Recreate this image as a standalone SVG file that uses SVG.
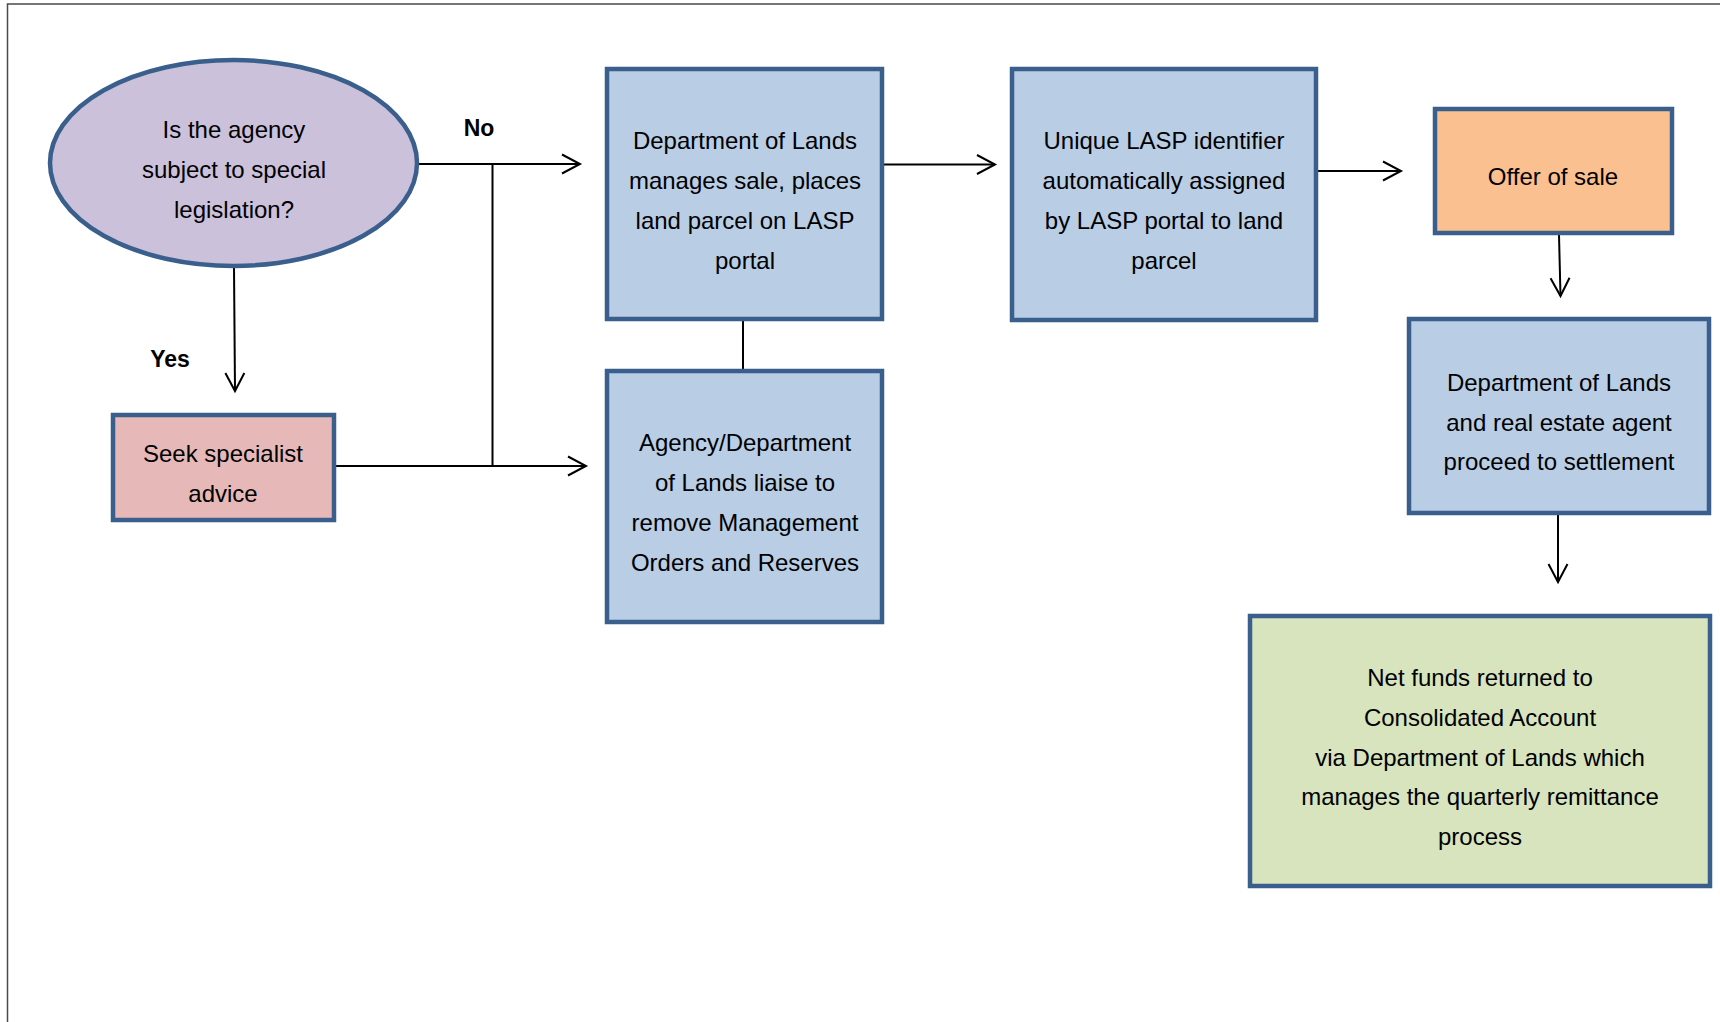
<svg xmlns="http://www.w3.org/2000/svg" width="1720" height="1022" viewBox="0 0 1720 1022">
  <style>
    .frame { fill: none; stroke: #4a4a4a; stroke-width: 1.5; }
    .node { stroke: #3a5f8c; stroke-width: 4.5; }
    .blue { fill: #b9cde5; }
    .pink { fill: #e6b9b8; }
    .lavender { fill: #ccc1da; }
    .orange { fill: #fac090; }
    .green { fill: #d7e4bd; }
    .label { font-family: "Liberation Sans", Arial, sans-serif; font-size: 24px; fill: #000; text-anchor: middle; }
    .tag { font-family: "Liberation Sans", Arial, sans-serif; font-size: 23px; font-weight: bold; fill: #000; text-anchor: middle; }
    .link { fill: none; stroke: #000; stroke-width: 2; }
  </style>
  <defs>
    <marker id="arrow" markerUnits="userSpaceOnUse" markerWidth="24" markerHeight="24" viewBox="-20 -12 24 24" refX="0" refY="0" orient="auto">
      <path d="M-18,-9.5 L0,0 L-18,9.5" fill="none" stroke="#000" stroke-width="2"/>
    </marker>
  </defs>

  <rect width="1720" height="1022" fill="#fff"/>
  <path class="frame" d="M7.5,1022 V4 H1720"/>

  <!-- connectors -->
  <g id="connectors">
    <path class="link" d="M418,164 H580" marker-end="url(#arrow)"/>
    <path class="link" d="M492.5,164 V466"/>
    <path class="link" d="M336,466 H586" marker-end="url(#arrow)"/>
    <path class="link" d="M234,267 L235,391" marker-end="url(#arrow)"/>
    <path class="link" d="M743,321 V369"/>
    <path class="link" d="M884,164.5 H995" marker-end="url(#arrow)"/>
    <path class="link" d="M1318,171 H1401" marker-end="url(#arrow)"/>
    <path class="link" d="M1559,235 L1560.5,296" marker-end="url(#arrow)"/>
    <path class="link" d="M1558,515 V582" marker-end="url(#arrow)"/>
    <text class="tag" x="479" y="136">No</text>
    <text class="tag" x="170" y="367">Yes</text>
  </g>

  <g id="question">
    <ellipse class="node lavender" cx="233.5" cy="163" rx="183.5" ry="103"/>
    <text class="label" x="234" y="138">Is the agency</text>
    <text class="label" x="234" y="178">subject to special</text>
    <text class="label" x="234" y="218">legislation?</text>
  </g>

  <g id="seek-advice">
    <rect class="node pink" x="113" y="415" width="221" height="105"/>
    <text class="label" x="223" y="462">Seek specialist</text>
    <text class="label" x="223" y="502">advice</text>
  </g>

  <g id="manages-sale">
    <rect class="node blue" x="607" y="69" width="275" height="250"/>
    <text class="label" x="745" y="149">Department of Lands</text>
    <text class="label" x="745" y="189">manages sale, places</text>
    <text class="label" x="745" y="229">land parcel on LASP</text>
    <text class="label" x="745" y="269">portal</text>
  </g>

  <g id="liaise">
    <rect class="node blue" x="607" y="371" width="275" height="251"/>
    <text class="label" x="745" y="451">Agency/Department</text>
    <text class="label" x="745" y="491">of Lands liaise to</text>
    <text class="label" x="745" y="531">remove Management</text>
    <text class="label" x="745" y="571">Orders and Reserves</text>
  </g>

  <g id="identifier">
    <rect class="node blue" x="1012" y="69" width="304" height="251"/>
    <text class="label" x="1164" y="149">Unique LASP identifier</text>
    <text class="label" x="1164" y="189">automatically assigned</text>
    <text class="label" x="1164" y="229">by LASP portal to land</text>
    <text class="label" x="1164" y="269">parcel</text>
  </g>

  <g id="offer">
    <rect class="node orange" x="1435" y="109" width="237" height="124"/>
    <text class="label" x="1553" y="185">Offer of sale</text>
  </g>

  <g id="settlement">
    <rect class="node blue" x="1409" y="319" width="300" height="194"/>
    <text class="label" x="1559" y="391">Department of Lands</text>
    <text class="label" x="1559" y="431">and real estate agent</text>
    <text class="label" x="1559" y="470">proceed to settlement</text>
  </g>

  <g id="net-funds">
    <rect class="node green" x="1250" y="616" width="460" height="270"/>
    <text class="label" x="1480" y="686">Net funds returned to</text>
    <text class="label" x="1480" y="726">Consolidated Account</text>
    <text class="label" x="1480" y="766">via Department of Lands which</text>
    <text class="label" x="1480" y="805">manages the quarterly remittance</text>
    <text class="label" x="1480" y="845">process</text>
  </g>
</svg>
